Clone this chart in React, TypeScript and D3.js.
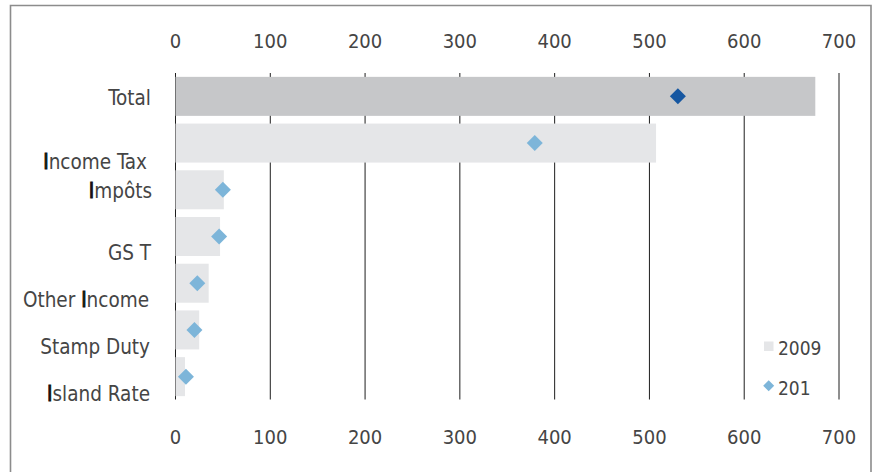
import React from "react";
import * as d3 from "d3";

const categories = ["Total", "Income Tax", "Impôts", "GS T", "Other Income", "Stamp Duty", "Island Rate"];
const values2009 = [675, 507, 51, 47, 35, 25, 10];
const values201 = [530, 379, 50, 46, 23, 20, 11];
const tickValues = [0, 100, 200, 300, 400, 500, 600, 700];
const legendLabels = ["2009", "201"];

// layout-only label nudges (dx, dy) as in the reference
const labelNudges: [number, number][] = [
  [0, 1.5], [-4, 18.5], [1, 1.2], [0, 16.5], [-2, 17], [-1, 17.5], [-1, 17.5],
];

const W = 878;
const H = 472;
const FONT = "'Liberation Sans Narrow', 'DejaVu Sans Condensed', 'Roboto', sans-serif";
const TEXT = "#454545";

function Label({ text, x, y }: { text: string; x: number; y: number }) {
  const parts = text.split(/(I)/).filter((p) => p.length > 0);
  return (
    <text x={x} y={y} textAnchor="end" dominantBaseline="central" fontSize={20.5} fill={TEXT} fontFamily={FONT}>
      {parts.map((p, i) =>
        p === "I" ? (
          <tspan key={i} fill="#111" stroke="#111" strokeWidth={0.9}>I</tspan>
        ) : (
          <tspan key={i}>{p}</tspan>
        )
      )}
    </text>
  );
}

export default function App() {
  const x = d3.scaleLinear().domain([0, 700]).range([175.5, 839]);
  const y = d3.scaleBand<string>().domain(categories).range([73, 400]).paddingInner(0.165).paddingOuter(0.0825);
  const bw = y.bandwidth();
  const gridTop = 73;
  const gridBottom = 399.5;
  const diamond = (cx: number, cy: number, r: number) =>
    `M${cx},${cy - r}L${cx + r},${cy}L${cx},${cy + r}L${cx - r},${cy}Z`;

  return (
    <div style={{ position: "absolute", left: 0, top: 0 }}>
      <svg width={W} height={H} style={{ display: "block", background: "#fff" }}>
        {/* frame */}
        <path d={`M10.5,${H + 10}V5.5H871V${H + 10}`} fill="none" stroke="#8c8c8c" strokeWidth={1.6} />

        {/* grid lines */}
        {tickValues.map((t) => (
          <line key={"g" + t} x1={x(t)} x2={x(t)} y1={gridTop} y2={gridBottom} stroke="#1e1e1e" strokeWidth={1} />
        ))}

        {/* 2009 bars */}
        {categories.map((c, i) => (
          <rect
            key={"b" + c}
            x={x(0)}
            y={y(c)!}
            width={x(values2009[i]) - x(0)}
            height={bw}
            fill={i === 0 ? "#c6c7c9" : "#e5e6e8"}
          />
        ))}

        {/* 201 diamonds */}
        {categories.map((c, i) => (
          <path
            key={"d" + c}
            d={diamond(x(values201[i]), y(c)! + bw / 2, 8)}
            fill={i === 0 ? "#1657a1" : "#7db5d9"}
          />
        ))}

        {/* category labels */}
        {categories.map((c, i) => (
          <Label key={"l" + c} text={c} x={151 + labelNudges[i][0]} y={y(c)! + bw / 2 + labelNudges[i][1]} />
        ))}

        {/* top and bottom tick labels */}
        {tickValues.map((t) => (
          <g key={"t" + t}>
            <text x={x(t)} y={41} textAnchor="middle" dominantBaseline="central" fontSize={20} fill={TEXT} fontFamily={FONT}>
              {t}
            </text>
            <text x={x(t)} y={437} textAnchor="middle" dominantBaseline="central" fontSize={20} fill={TEXT} fontFamily={FONT}>
              {t}
            </text>
          </g>
        ))}

        {/* legend */}
        <rect x={764} y={341.5} width={9.5} height={9.5} fill="#e5e6e8" />
        <text x={778} y={348} dominantBaseline="central" fontSize={19} fill={TEXT} fontFamily={FONT}>
          {legendLabels[0]}
        </text>
        <path d={diamond(768.7, 385.7, 5.5)} fill="#7db5d9" />
        <text x={778} y={388} dominantBaseline="central" fontSize={19} fill={TEXT} fontFamily={FONT}>
          {legendLabels[1]}
        </text>
      </svg>
    </div>
  );
}
